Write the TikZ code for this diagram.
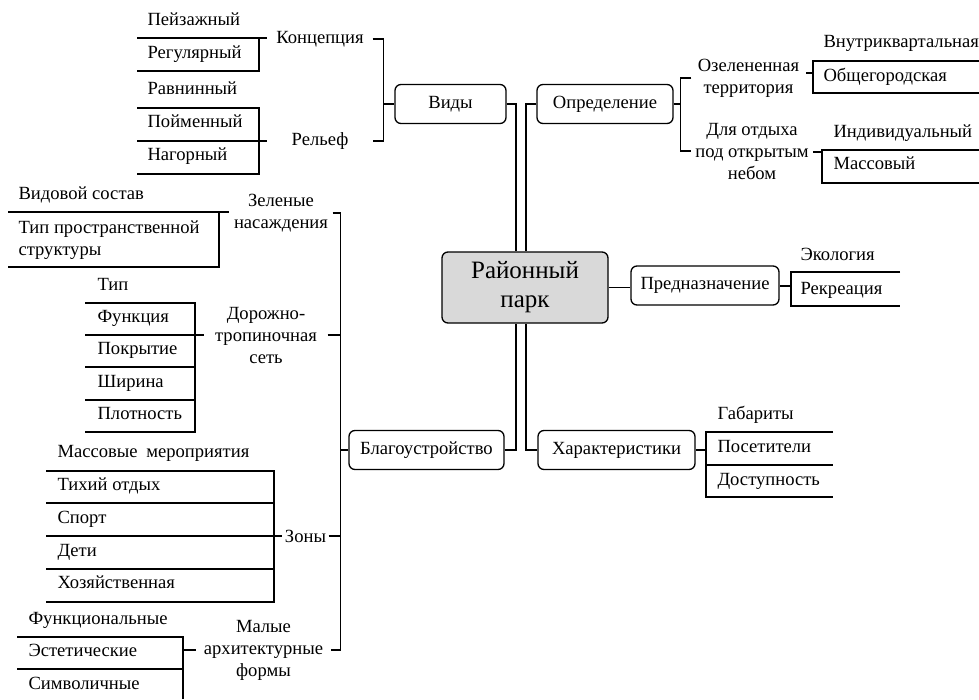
\documentclass[tikz,border=0pt]{standalone}
\usepackage{fontspec}
\setmainfont{Liberation Serif}
\usepackage{tikz}

\begin{document}
\begin{tikzpicture}[x=1pt, y=-1pt, line width=1.1pt,
  box/.style={draw, line width=1.3pt, rounded corners=6pt, inner sep=0pt, minimum height=39pt, font=\fontsize{18.6}{22}\selectfont},
  item/.style={anchor=mid west, inner sep=0pt, font=\fontsize{18.6}{22}\selectfont},
  lbl/.style={align=center, inner sep=0pt, font=\fontsize{18.6}{22}\selectfont}]
\useasboundingbox (0,0) rectangle (979,699);

% Central node
\node[box, fill=gray!30, minimum width=166pt, minimum height=71pt, align=center, font=\fontsize{25}{29}\selectfont] (park) at (525,287.5) {Районный\\парк};

% Main branches
\node[box, minimum width=111pt] (vidy) at (450.5,104) {Виды};
\node[box, minimum width=136pt] (opred) at (605,104) {Определение};
\node[box, minimum width=148pt] (pred) at (705,285.5) {Предназначение};
\node[box, minimum width=155pt] (blag) at (426.5,450) {Благоустройство};
\node[box, minimum width=157pt] (har) at (616.5,450) {Характеристики};

\draw (vidy.east) -| ([xshift=-9pt]park.north);
\draw (opred.west) -| ([xshift=1pt]park.north);
\draw (blag.east) -| ([xshift=-9pt]park.south);
\draw (har.west) -| ([xshift=1pt]park.south);
\draw (park.east) -- (park.east -| pred.west);

% Концепция
\node[item] (kp1) at (147,23) {Пейзажный};
\node[item] (kp2) at (147,56) {Регулярный};
\draw (137,38) -- (259,38) -- (259,71) -- (137,71);
\coordinate (kA) at (259,38);
\node[lbl, minimum width=104pt] (konc) at (320,39) {Концепция};
\draw (kA) -- (kA -| konc.west);

% Рельеф
\node[item] (rl1) at (147,92) {Равнинный};
\node[item] (rl2) at (147,125) {Пойменный};
\node[item] (rl3) at (147,158) {Нагорный};
\draw (137,108) -- (259,108) -- (259,174) -- (137,174);
\draw (137,141) -- (259,141);
\coordinate (rA) at (259,141);
\node[lbl, minimum width=104pt] (relef) at (320,141) {Рельеф};
\draw (rA) -- (rA -| relef.west);

% Bracket to Виды
\draw (konc.east) -- ++(11,0) coordinate (kb) |- (relef.east);
\draw (kb |- vidy.west) -- (vidy.west);

% Зеленые насаждения
\node[item] (zn1) at (18,197) {Видовой состав};
\node[item, anchor=west, align=left] (zn2) at (18,240) {Тип пространственной\\структуры};
\draw (8,212) -- (219,212) -- (219,267) -- (8,267);
\coordinate (zA) at (219,212);
\node[lbl, minimum width=102pt] (zelen) at (281,213) {Зеленые\\насаждения};
\draw (zA) -- (zA -| zelen.west);

% Дорожно-тропиночная сеть
\node[item] (dt1) at (97,288) {Тип};
\node[item] (dt2) at (97,320) {Функция};
\node[item] (dt3) at (97,352) {Покрытие};
\node[item] (dt4) at (97,385) {Ширина};
\node[item] (dt5) at (97,417) {Плотность};
\draw (85,303) -- (195,303) -- (195,432) -- (85,432);
\draw (85,335) -- (195,335);
\draw (85,367) -- (195,367);
\draw (85,400) -- (195,400);
\coordinate (dA) at (195,335);
\node[lbl, minimum width=122pt] (doro) at (266,335) {Дорожно-\\тропиночная\\сеть};
\draw (dA) -- (dA -| doro.west);

% Зоны
\node[item] (zo1) at (57,455) {Массовые\hspace{4pt} мероприятия};
\node[item] (zo2) at (57,488) {Тихий отдых};
\node[item] (zo3) at (57,521) {Спорт};
\node[item] (zo4) at (57,554) {Дети};
\node[item] (zo5) at (57,586) {Хозяйственная};
\draw (46,471) -- (274,471) -- (274,602) -- (46,602);
\draw (46,503) -- (274,503);
\draw (46,536) -- (274,536);
\draw (46,569) -- (274,569);
\coordinate (zoA) at (274,536);
\node[lbl, minimum width=45pt] (zony) at (305.5,536) {Зоны};
\draw (zoA) -- (zoA -| zony.west);

% Малые архитектурные формы
\node[item] (ma1) at (28,622) {Функциональные};
\node[item] (ma2) at (28,654) {Эстетические};
\node[item] (ma3) at (28,687) {Символичные};
\draw (17,637) -- (183,637) -- (183,699);
\draw (17,669) -- (183,669);
\coordinate (mA) at (183,650);
\node[lbl, minimum width=133pt] (maly) at (263.5,650) {Малые\\архитектурные\\формы};
\draw (mA) -- (mA -| maly.west);

% Bracket to Благоустройство
\draw (zelen.east) -- ++(8,0) coordinate (zb) |- (maly.east);
\draw (doro.east) -- (doro.east -| zb);
\draw (zony.east) -- (zony.east -| zb);
\draw (zb |- blag.west) -- (blag.west);

% Определение
\node[lbl, minimum width=113pt] (ozel) at (748.5,78) {Озелененная\\территория};
\node[lbl, minimum width=120pt] (dlya) at (752,151) {Для отдыха\\под открытым\\небом};
\draw (ozel.west) -- ++(-11,0) coordinate (ob) |- (dlya.west);
\draw (opred.east) -- (opred.east -| ob);

\node[item] (oz1) at (823,45) {Внутриквартальная};
\node[item] (oz2) at (823,79) {Общегородская};
\draw (979,61) -- (813,61) -- (813,93) -- (979,93);
\coordinate (oA) at (813,73);
\draw (oA) -- (oA -| ozel.east);

\node[item] (dl1) at (833,135) {Индивидуальный};
\node[item] (dl2) at (833,167) {Массовый};
\draw (979,150) -- (822,150) -- (822,183) -- (979,183);
\coordinate (dlA) at (822,152);
\draw (dlA) -- (dlA -| dlya.east);

% Предназначение
\node[item] (pr1) at (800,258) {Экология};
\node[item] (pr2) at (800,292) {Рекреация};
\draw (900,272) -- (791,272) -- (791,306) -- (900,306);
\coordinate (pA) at (791,286);
\draw (pA) -- (pA -| pred.east);

% Характеристики
\node[item] (ha1) at (717,417) {Габариты};
\node[item] (ha2) at (717,450) {Посетители};
\node[item] (ha3) at (717,483) {Доступность};
\draw (833,432) -- (706,432) -- (706,497) -- (833,497);
\draw (706,465) -- (833,465);
\coordinate (hA) at (706,450);
\draw (hA) -- (hA -| har.east);
\end{tikzpicture}
\end{document}
